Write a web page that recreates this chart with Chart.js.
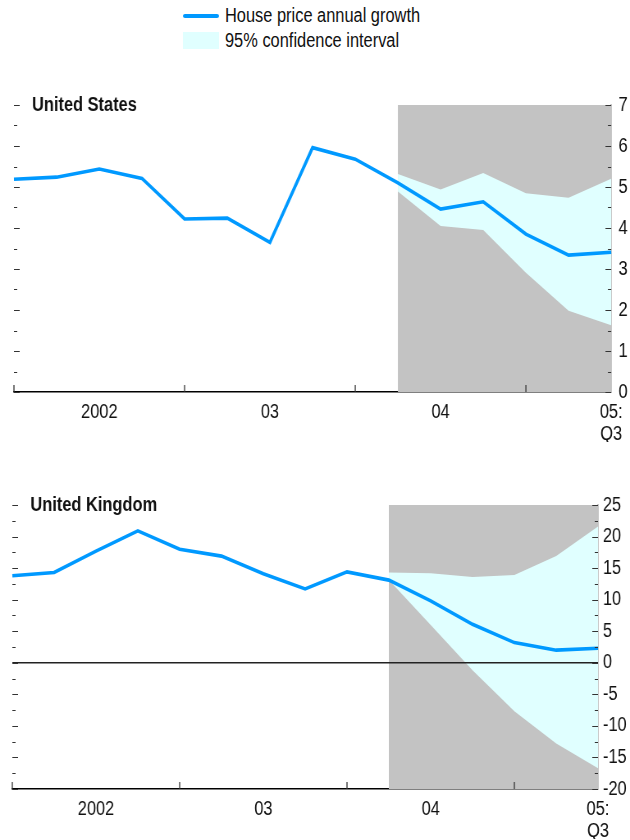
<!DOCTYPE html>
<html>
<head>
<meta charset="utf-8">
<script src="https://cdn.jsdelivr.net/npm/chart.js@4.4.1/dist/chart.umd.min.js"></script>
<style>
  body {
    margin: 0;
    width: 630px;
    height: 840px;
    background: #fff;
    position: relative;
    overflow: hidden;
    font-family: 'Liberation Sans', Arial, sans-serif;
    color: #111;
  }
  .legend { position: absolute; left: 183px; top: 3px; font-size: 20px; }
  .legend .row { display: flex; align-items: center; height: 25px; white-space: nowrap; }
  .legend .txt { display: inline-block; transform: scaleX(0.82); transform-origin: left center; }
  .swatch-line { width: 36px; height: 4px; background: #0099ff; margin-right: 6px; border-radius: 2px; }
  .swatch-box { width: 36px; height: 17px; background: #e0ffff; margin-right: 6px; }
  /* the canvases are drawn wider and squeezed to 630px so Liberation Sans reads as a narrow face */
  .panel { position: absolute; left: 0; width: 630px; }
</style>
</head>
<body>

<div class="legend">
  <div class="row"><span class="swatch-line"></span><span class="txt">House price annual growth</span></div>
  <div class="row"><span class="swatch-box"></span><span class="txt">95% confidence interval</span></div>
</div>

<canvas id="usChart" class="panel" style="top:80px; width:630px; height:362px" width="768" height="362"></canvas>
<canvas id="ukChart" class="panel" style="top:480px; width:630px; height:359px" width="768" height="359"></canvas>

<script>
// quarterly, 2002Q1 .. 2005Q3
const quarters = ['2002Q1', '2002Q2', '2002Q3', '2002Q4',
                  '2003Q1', '2003Q2', '2003Q3', '2003Q4',
                  '2004Q1', '2004Q2', '2004Q3', '2004Q4',
                  '2005Q1', '2005Q2', '2005Q3'];
const yearLabels = ['2002', '03', '04', ['05:', 'Q3']];
const yearLabelIdx = [2, 6, 10, 14];
const yearStartIdx = [0, 4, 8, 12];
const forecastStart = 9;   // shaded from 2004Q2

const usGrowth = [5.19, 5.24, 5.44, 5.21, 4.22, 4.24, 3.65, 5.96, 5.68, 5.10, 4.46, 4.64, 3.85, 3.34, 3.41];
const usUpper  = [null, null, null, null, null, null, null, null, null, 5.32, 4.94, 5.34, 4.85, 4.74, 5.20];
const usLower  = [null, null, null, null, null, null, null, null, null, 4.89, 4.05, 3.95, 2.91, 1.98, 1.63];

const ukGrowth = [13.8, 14.3, 17.7, 20.9, 18.0, 16.9, 14.1, 11.7, 14.4, 13.1, 9.8, 6.1, 3.2, 2.0, 2.3];
const ukUpper  = [null, null, null, null, null, null, null, null, null, 14.3, 14.2, 13.6, 13.9, 16.9, 21.6];
const ukLower  = [null, null, null, null, null, null, null, null, null, 13.1, 6.0, -1.2, -7.7, -12.8, -16.7];

const FONT = "'Liberation Sans', Arial, sans-serif";
const SX = 630 / 768;      // horizontal squeeze of the canvases
const BLUE = '#0099ff';
const BAND = '#e0ffff';
const SHADE = '#c3c3c3';

// small inward ticks, zero line and panel title
const panelDecor = {
    id: 'panelDecor',
    afterDatasetsDraw(chart, args, opts) {
        const {ctx, chartArea: a} = chart;
        const x = chart.scales.x, y = chart.scales.y;
        ctx.save();

        if (y.min < 0) {
            const y0 = y.getPixelForValue(0);
            ctx.strokeStyle = '#222';
            ctx.lineWidth = 1.5;
            ctx.beginPath();
            ctx.moveTo(a.left, y0);
            ctx.lineTo(a.right, y0);
            ctx.stroke();
        }

        ctx.strokeStyle = '#333';
        ctx.lineWidth = 1;
        for (let v = y.min; v <= y.max + 1e-9; v += opts.minor) {
            const py = Math.round(y.getPixelForValue(v)) + 0.5;
            const len = Math.abs(v % opts.major) < 1e-9 ? 7 : 4;
            ctx.beginPath();
            ctx.moveTo(a.left, py);
            ctx.lineTo(a.left + len, py);
            ctx.moveTo(a.right - len, py);
            ctx.lineTo(a.right, py);
            ctx.stroke();
        }

        ctx.lineWidth = 1.3;
        yearStartIdx.forEach(i => {
            const px = x.getPixelForValue(i);
            ctx.beginPath();
            ctx.moveTo(px, a.bottom);
            ctx.lineTo(px, a.bottom - 7);
            ctx.stroke();
        });

        ctx.fillStyle = '#111';
        ctx.font = 'bold 20px ' + FONT;
        ctx.textBaseline = 'middle';
        ctx.textAlign = 'left';
        ctx.fillText(opts.title, a.left + 22, a.top);
        ctx.restore();
    }
};

function makePanel(canvasId, title, growth, upper, lower, yMin, yMax, major, minor, leftPad, axisWidth, labelPad) {
    const shade = quarters.map((q, i) => i >= forecastStart ? yMax : null);

    const config = {
        type: 'line',
        data: {
            labels: quarters,
            datasets: [
                {
                    label: 'House price annual growth',
                    data: growth,
                    borderColor: BLUE,
                    borderWidth: 3.6,
                    pointRadius: 0,
                    tension: 0,
                    fill: false,
                },
                {
                    label: '95% upper',
                    data: upper,
                    borderWidth: 0,
                    borderColor: 'transparent',
                    backgroundColor: BAND,
                    pointRadius: 0,
                    fill: '+1',
                },
                {
                    label: '95% lower',
                    data: lower,
                    borderWidth: 0,
                    borderColor: 'transparent',
                    pointRadius: 0,
                    fill: false,
                },
                {
                    label: 'forecast',
                    data: shade,
                    borderWidth: 0,
                    borderColor: 'transparent',
                    backgroundColor: SHADE,
                    pointRadius: 0,
                    fill: 'start',
                },
            ],
        },
        plugins: [panelDecor],
        options: {
            responsive: false,
            animation: false,
            layout: { padding: { top: 25, left: leftPad, right: 0, bottom: 0 } },
            plugins: {
                legend: { display: false },
                tooltip: { enabled: false },
                panelDecor: { title: title, major: major, minor: minor },
            },
            scales: {
                x: {
                    type: 'category',
                    grid: { display: false, drawTicks: false },
                    border: { display: true, color: '#000', width: 1.5 },
                    ticks: {
                        autoSkip: false,
                        maxRotation: 0,
                        padding: 9,
                        color: '#111',
                        font: { family: FONT, size: 20, lineHeight: 1.1 },
                        callback: (val, i) => {
                            const k = yearLabelIdx.indexOf(i);
                            return k >= 0 ? yearLabels[k] : '';
                        },
                    },
                    afterFit: (scale) => { scale.height = 50; },
                },
                y: {
                    position: 'right',
                    min: yMin,
                    max: yMax,
                    grid: { display: false, drawTicks: false },
                    border: { display: true, color: '#c8c8c8', width: 2 },
                    ticks: {
                        stepSize: major,
                        padding: labelPad,
                        color: '#111',
                        font: { family: FONT, size: 20 },
                    },
                    afterFit: (scale) => { scale.width = axisWidth; },
                },
            },
        },
    };

    const ctx = document.getElementById(canvasId).getContext('2d');
    return new Chart(ctx, config);
}

makePanel('usChart', 'United States', usGrowth, usUpper, usLower, 0, 7, 1, 0.5,
          Math.round(14 / SX), Math.round(18 / SX), 9);
makePanel('ukChart', 'United Kingdom', ukGrowth, ukUpper, ukLower, -20, 25, 5, 2.5,
          Math.round(12 / SX), Math.round(32 / SX), 6);
</script>
</body>
</html>
